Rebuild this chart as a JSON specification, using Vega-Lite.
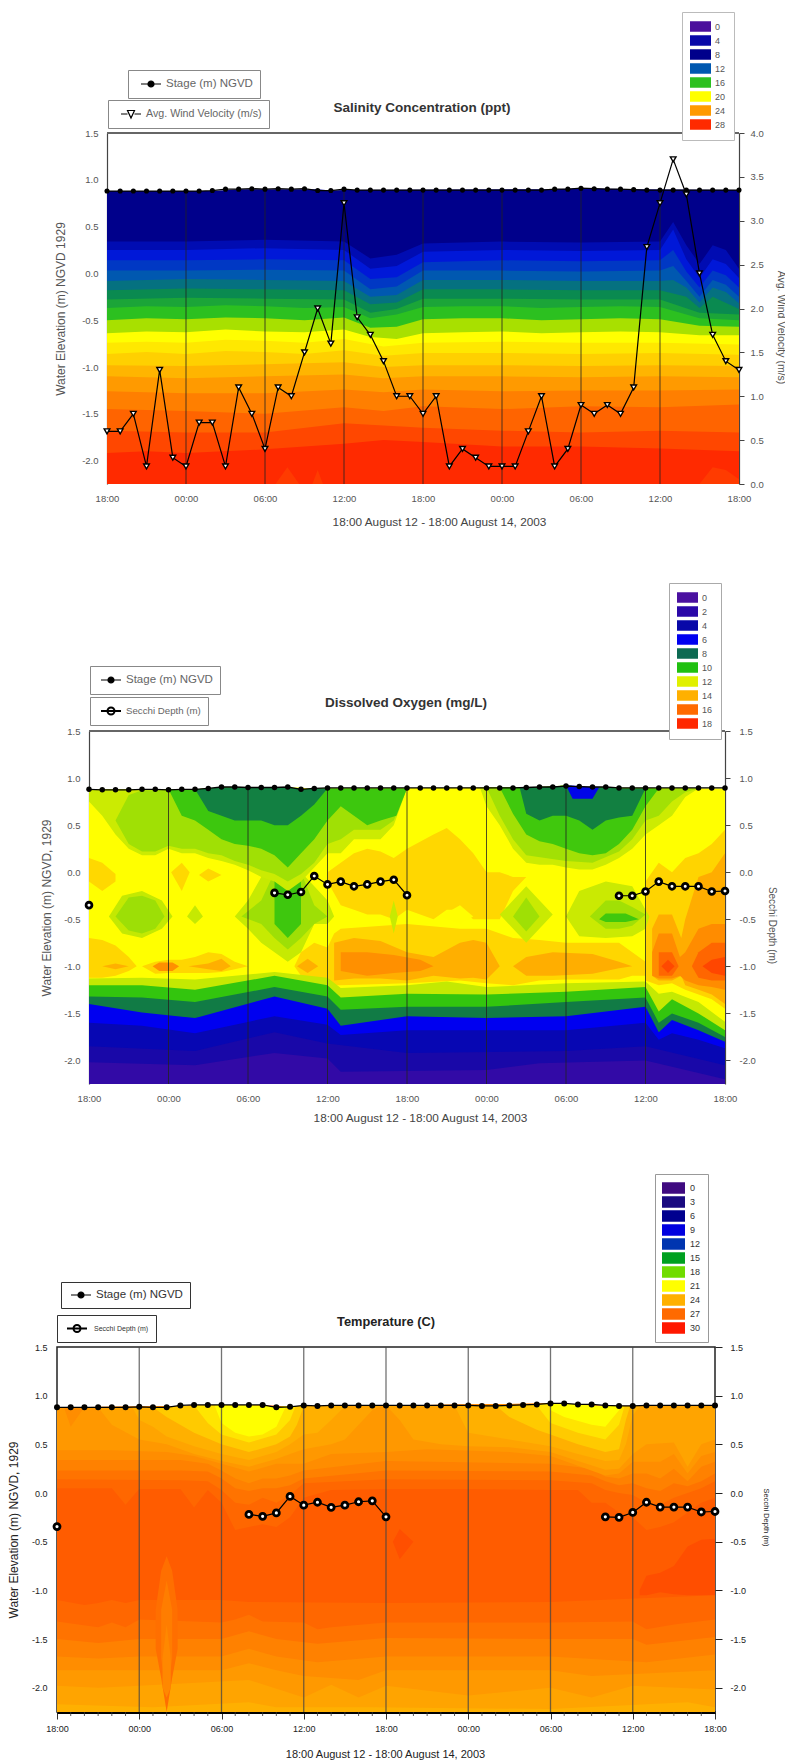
{
"$schema":"https://vega.github.io/schema/vega-lite/v6.json",
"padding":0,
"background":"white",
"config":{"font":"Liberation Sans","view":{"stroke":null},"title":{"font":"Liberation Sans"},"legend":{"labelFont":"Liberation Sans"}},
"datasets":{
"sal":[
{"b":8,"h":0,"y":0.88},{"b":8,"h":8,"y":0.88},{"b":8,"h":10,"y":0.9},{"b":8,"h":16,"y":0.9},{"b":8,"h":17,"y":0.885},{"b":8,"h":18,"y":0.89},{"b":8,"h":34,"y":0.9},{"b":8,"h":36,"y":0.91},{"b":8,"h":40,"y":0.9},{"b":8,"h":48,"y":0.89},
{"b":9,"h":0,"y":0.34},{"b":9,"h":6,"y":0.34},{"b":9,"h":12,"y":0.36},{"b":9,"h":18,"y":0.34},{"b":9,"h":20,"y":0.16},{"b":9,"h":22,"y":0.2},{"b":9,"h":24,"y":0.32},{"b":9,"h":30,"y":0.34},{"b":9,"h":36,"y":0.33},{"b":9,"h":42,"y":0.34},{"b":9,"h":43,"y":0.55},{"b":9,"h":44,"y":0.3},{"b":9,"h":45,"y":0.1},{"b":9,"h":46,"y":0.3},{"b":9,"h":47,"y":0.25},{"b":9,"h":48,"y":0.05},
{"b":10,"h":0,"y":0.25},{"b":10,"h":6,"y":0.25},{"b":10,"h":12,"y":0.27},{"b":10,"h":18,"y":0.25},{"b":10,"h":20,"y":0.05},{"b":10,"h":22,"y":0.08},{"b":10,"h":24,"y":0.23},{"b":10,"h":30,"y":0.25},{"b":10,"h":36,"y":0.24},{"b":10,"h":42,"y":0.25},{"b":10,"h":43,"y":0.47},{"b":10,"h":44,"y":0.15},{"b":10,"h":45,"y":-0.05},{"b":10,"h":46,"y":0.15},{"b":10,"h":47,"y":0.1},{"b":10,"h":48,"y":-0.05},
{"b":11,"h":0,"y":0.14},{"b":11,"h":6,"y":0.14},{"b":11,"h":12,"y":0.15},{"b":11,"h":18,"y":0.14},{"b":11,"h":20,"y":-0.06},{"b":11,"h":22,"y":-0.04},{"b":11,"h":24,"y":0.12},{"b":11,"h":30,"y":0.14},{"b":11,"h":36,"y":0.13},{"b":11,"h":42,"y":0.14},{"b":11,"h":43,"y":0.25},{"b":11,"h":44,"y":0.02},{"b":11,"h":45,"y":-0.15},{"b":11,"h":46,"y":0.03},{"b":11,"h":47,"y":-0.02},{"b":11,"h":48,"y":-0.15},
{"b":12,"h":0,"y":0.03},{"b":12,"h":6,"y":0.03},{"b":12,"h":12,"y":0.04},{"b":12,"h":18,"y":0.03},{"b":12,"h":20,"y":-0.17},{"b":12,"h":22,"y":-0.14},{"b":12,"h":24,"y":0.03},{"b":12,"h":30,"y":0.03},{"b":12,"h":36,"y":0.02},{"b":12,"h":42,"y":0.03},{"b":12,"h":43,"y":0.08},{"b":12,"h":44,"y":-0.08},{"b":12,"h":45,"y":-0.25},{"b":12,"h":46,"y":-0.07},{"b":12,"h":47,"y":-0.12},{"b":12,"h":48,"y":-0.25},
{"b":13,"h":0,"y":-0.08},{"b":13,"h":6,"y":-0.06},{"b":13,"h":12,"y":-0.07},{"b":13,"h":18,"y":-0.08},{"b":13,"h":20,"y":-0.25},{"b":13,"h":22,"y":-0.23},{"b":13,"h":24,"y":-0.07},{"b":13,"h":30,"y":-0.07},{"b":13,"h":36,"y":-0.08},{"b":13,"h":42,"y":-0.08},{"b":13,"h":43,"y":-0.07},{"b":13,"h":44,"y":-0.15},{"b":13,"h":45,"y":-0.31},{"b":13,"h":46,"y":-0.15},{"b":13,"h":47,"y":-0.2},{"b":13,"h":48,"y":-0.32},
{"b":14,"h":0,"y":-0.18},{"b":14,"h":6,"y":-0.16},{"b":14,"h":12,"y":-0.17},{"b":14,"h":18,"y":-0.18},{"b":14,"h":20,"y":-0.33},{"b":14,"h":22,"y":-0.31},{"b":14,"h":24,"y":-0.17},{"b":14,"h":30,"y":-0.17},{"b":14,"h":36,"y":-0.18},{"b":14,"h":42,"y":-0.18},{"b":14,"h":44,"y":-0.25},{"b":14,"h":45,"y":-0.37},{"b":14,"h":46,"y":-0.25},{"b":14,"h":48,"y":-0.38},
{"b":15,"h":0,"y":-0.28},{"b":15,"h":6,"y":-0.26},{"b":15,"h":12,"y":-0.27},{"b":15,"h":18,"y":-0.28},{"b":15,"h":20,"y":-0.42},{"b":15,"h":22,"y":-0.38},{"b":15,"h":24,"y":-0.27},{"b":15,"h":30,"y":-0.27},{"b":15,"h":36,"y":-0.28},{"b":15,"h":42,"y":-0.28},{"b":15,"h":45,"y":-0.42},{"b":15,"h":48,"y":-0.44},
{"b":16,"h":0,"y":-0.37},{"b":16,"h":3,"y":-0.35},{"b":16,"h":6,"y":-0.36},{"b":16,"h":9,"y":-0.34},{"b":16,"h":12,"y":-0.35},{"b":16,"h":15,"y":-0.37},{"b":16,"h":18,"y":-0.36},{"b":16,"h":20,"y":-0.48},{"b":16,"h":22,"y":-0.44},{"b":16,"h":24,"y":-0.36},{"b":16,"h":27,"y":-0.35},{"b":16,"h":30,"y":-0.35},{"b":16,"h":33,"y":-0.37},{"b":16,"h":36,"y":-0.36},{"b":16,"h":39,"y":-0.35},{"b":16,"h":42,"y":-0.36},{"b":16,"h":45,"y":-0.48},{"b":16,"h":48,"y":-0.5},
{"b":18,"h":0,"y":-0.5},{"b":18,"h":3,"y":-0.48},{"b":18,"h":6,"y":-0.49},{"b":18,"h":9,"y":-0.47},{"b":18,"h":12,"y":-0.48},{"b":18,"h":15,"y":-0.5},{"b":18,"h":18,"y":-0.47},{"b":18,"h":20,"y":-0.58},{"b":18,"h":22,"y":-0.57},{"b":18,"h":24,"y":-0.49},{"b":18,"h":27,"y":-0.48},{"b":18,"h":30,"y":-0.48},{"b":18,"h":33,"y":-0.5},{"b":18,"h":36,"y":-0.49},{"b":18,"h":39,"y":-0.48},{"b":18,"h":42,"y":-0.49},{"b":18,"h":45,"y":-0.56},{"b":18,"h":48,"y":-0.57},
{"b":20,"h":0,"y":-0.64},{"b":20,"h":3,"y":-0.62},{"b":20,"h":6,"y":-0.63},{"b":20,"h":9,"y":-0.6},{"b":20,"h":12,"y":-0.62},{"b":20,"h":15,"y":-0.63},{"b":20,"h":18,"y":-0.6},{"b":20,"h":20,"y":-0.68},{"b":20,"h":22,"y":-0.7},{"b":20,"h":24,"y":-0.64},{"b":20,"h":27,"y":-0.63},{"b":20,"h":30,"y":-0.62},{"b":20,"h":33,"y":-0.64},{"b":20,"h":36,"y":-0.63},{"b":20,"h":39,"y":-0.62},{"b":20,"h":42,"y":-0.63},{"b":20,"h":45,"y":-0.66},{"b":20,"h":48,"y":-0.66},
{"b":21,"h":0,"y":-0.74},{"b":21,"h":3,"y":-0.73},{"b":21,"h":6,"y":-0.74},{"b":21,"h":9,"y":-0.71},{"b":21,"h":12,"y":-0.72},{"b":21,"h":15,"y":-0.74},{"b":21,"h":18,"y":-0.7},{"b":21,"h":21,"y":-0.78},{"b":21,"h":24,"y":-0.74},{"b":21,"h":30,"y":-0.73},{"b":21,"h":36,"y":-0.74},{"b":21,"h":42,"y":-0.74},{"b":21,"h":48,"y":-0.76},
{"b":22,"h":0,"y":-0.86},{"b":22,"h":3,"y":-0.84},{"b":22,"h":6,"y":-0.86},{"b":22,"h":9,"y":-0.83},{"b":22,"h":12,"y":-0.84},{"b":22,"h":15,"y":-0.86},{"b":22,"h":18,"y":-0.82},{"b":22,"h":21,"y":-0.88},{"b":22,"h":24,"y":-0.85},{"b":22,"h":30,"y":-0.85},{"b":22,"h":36,"y":-0.86},{"b":22,"h":42,"y":-0.85},{"b":22,"h":48,"y":-0.87},
{"b":23,"h":0,"y":-0.98},{"b":23,"h":6,"y":-0.99},{"b":23,"h":12,"y":-0.97},{"b":23,"h":18,"y":-0.95},{"b":23,"h":21,"y":-1.0},{"b":23,"h":24,"y":-0.98},{"b":23,"h":30,"y":-0.98},{"b":23,"h":36,"y":-0.99},{"b":23,"h":42,"y":-0.98},{"b":23,"h":48,"y":-0.99},
{"b":24,"h":0,"y":-1.1},{"b":24,"h":6,"y":-1.12},{"b":24,"h":12,"y":-1.1},{"b":24,"h":18,"y":-1.08},{"b":24,"h":21,"y":-1.12},{"b":24,"h":24,"y":-1.1},{"b":24,"h":30,"y":-1.1},{"b":24,"h":36,"y":-1.11},{"b":24,"h":42,"y":-1.1},{"b":24,"h":48,"y":-1.11},
{"b":25,"h":0,"y":-1.26},{"b":25,"h":6,"y":-1.28},{"b":25,"h":12,"y":-1.28},{"b":25,"h":18,"y":-1.24},{"b":25,"h":21,"y":-1.27},{"b":25,"h":24,"y":-1.24},{"b":25,"h":30,"y":-1.26},{"b":25,"h":36,"y":-1.25},{"b":25,"h":42,"y":-1.25},{"b":25,"h":48,"y":-1.24},
{"b":26,"h":0,"y":-1.45},{"b":26,"h":6,"y":-1.47},{"b":26,"h":12,"y":-1.5},{"b":26,"h":18,"y":-1.43},{"b":26,"h":21,"y":-1.47},{"b":26,"h":24,"y":-1.42},{"b":26,"h":30,"y":-1.45},{"b":26,"h":36,"y":-1.42},{"b":26,"h":42,"y":-1.43},{"b":26,"h":48,"y":-1.4},
{"b":27,"h":0,"y":-1.68},{"b":27,"h":6,"y":-1.7},{"b":27,"h":12,"y":-1.7},{"b":27,"h":18,"y":-1.6},{"b":27,"h":24,"y":-1.65},{"b":27,"h":30,"y":-1.68},{"b":27,"h":36,"y":-1.7},{"b":27,"h":42,"y":-1.68},{"b":27,"h":48,"y":-1.7},
{"b":28,"h":0,"y":-1.92},{"b":28,"h":3,"y":-1.9},{"b":28,"h":6,"y":-1.92},{"b":28,"h":12,"y":-1.88},{"b":28,"h":15,"y":-1.85},{"b":28,"h":18,"y":-1.82},{"b":28,"h":21,"y":-1.78},{"b":28,"h":24,"y":-1.8},{"b":28,"h":30,"y":-1.85},{"b":28,"h":36,"y":-1.85},{"b":28,"h":42,"y":-1.87},{"b":28,"h":48,"y":-1.9},
{"b":27.4,"h":12.8,"y":-2.25},{"b":27.4,"h":13.7,"y":-2.07},{"b":27.4,"h":14.6,"y":-2.25},
{"b":27.41,"h":15.6,"y":-2.25},{"b":27.41,"h":16,"y":-2.1},{"b":27.41,"h":16.4,"y":-2.25},
{"b":27.42,"h":45,"y":-2.25},{"b":27.42,"h":46,"y":-2.07},{"b":27.42,"h":47,"y":-2.1},{"b":27.42,"h":48,"y":-2.2}
],
"do":[
{"b":12.5,"h":0,"y":0.88,"y2":-2.25},{"b":12.5,"h":8,"y":0.88,"y2":-2.25},{"b":12.5,"h":10,"y":0.9,"y2":-2.25},{"b":12.5,"h":16,"y":0.9,"y2":-2.25},{"b":12.5,"h":17,"y":0.88,"y2":-2.25},{"b":12.5,"h":18,"y":0.89,"y2":-2.25},{"b":12.5,"h":34,"y":0.9,"y2":-2.25},{"b":12.5,"h":36,"y":0.92,"y2":-2.25},{"b":12.5,"h":38,"y":0.9,"y2":-2.25},{"b":12.5,"h":48,"y":0.89,"y2":-2.25},
{"b":13,"h":0,"y":0.15,"y2":-0.1},{"b":13,"h":1,"y":0.1,"y2":-0.2},{"b":13,"h":2,"y":-0.02,"y2":-0.1},
{"b":13.01,"h":6.2,"y":0,"y2":0},{"b":13.01,"h":7,"y":0.1,"y2":-0.2},{"b":13.01,"h":7.6,"y":0,"y2":0},
{"b":13.02,"h":8.3,"y":-0.03,"y2":-0.03},{"b":13.02,"h":9,"y":0.04,"y2":-0.1},{"b":13.02,"h":10,"y":-0.03,"y2":-0.03},
{"b":13.03,"h":18,"y":0,"y2":-0.1},{"b":13.03,"h":19,"y":0.1,"y2":-0.35},{"b":13.03,"h":20,"y":0.2,"y2":-0.4},{"b":13.03,"h":21,"y":0.25,"y2":-0.45},{"b":13.03,"h":22,"y":0.22,"y2":-0.45},{"b":13.03,"h":23,"y":0.15,"y2":-0.5},{"b":13.03,"h":24,"y":0.25,"y2":-0.4},{"b":13.03,"h":26,"y":0.4,"y2":-0.5},{"b":13.03,"h":27,"y":0.47,"y2":-0.4},{"b":13.03,"h":28,"y":0.35,"y2":-0.4},{"b":13.03,"h":29,"y":0.2,"y2":-0.5},{"b":13.03,"h":30,"y":0,"y2":-0.5},{"b":13.03,"h":31,"y":0,"y2":-0.5},{"b":13.03,"h":32,"y":-0.05,"y2":-0.2},{"b":13.03,"h":33,"y":-0.05,"y2":-0.05},
{"b":13.04,"h":0,"y":-0.7,"y2":-1.12},{"b":13.04,"h":1,"y":-0.72,"y2":-1.12},{"b":13.04,"h":2,"y":-0.78,"y2":-1.1},{"b":13.04,"h":3,"y":-0.9,"y2":-1.05},{"b":13.04,"h":3.6,"y":-1,"y2":-1},
{"b":13.05,"h":4,"y":-1,"y2":-1},{"b":13.05,"h":5,"y":-0.95,"y2":-1.08},{"b":13.05,"h":6,"y":-0.93,"y2":-1.07},{"b":13.05,"h":7,"y":-0.93,"y2":-1.07},{"b":13.05,"h":8,"y":-0.9,"y2":-1.07},{"b":13.05,"h":9,"y":-0.85,"y2":-1.07},{"b":13.05,"h":10,"y":-0.87,"y2":-1.06},{"b":13.05,"h":11,"y":-0.95,"y2":-1.03},{"b":13.05,"h":12,"y":-1,"y2":-1},
{"b":13.06,"h":15.5,"y":-1,"y2":-1},{"b":13.06,"h":16,"y":-0.85,"y2":-1.1},{"b":13.06,"h":17,"y":-0.75,"y2":-1.12},{"b":13.06,"h":18,"y":-0.8,"y2":-1.15},{"b":13.06,"h":18.5,"y":-0.65,"y2":-1.2},{"b":13.06,"h":19,"y":-0.6,"y2":-1.2},{"b":13.06,"h":24,"y":-0.55,"y2":-1.18},{"b":13.06,"h":28,"y":-0.6,"y2":-1.15},{"b":13.06,"h":30,"y":-0.6,"y2":-1.18},{"b":13.06,"h":32,"y":-0.7,"y2":-1.2},{"b":13.06,"h":34,"y":-0.72,"y2":-1.15},{"b":13.06,"h":36,"y":-0.75,"y2":-1.14},{"b":13.06,"h":40,"y":-0.75,"y2":-1.14},{"b":13.06,"h":41,"y":-0.85,"y2":-1.1},{"b":13.06,"h":42,"y":-0.95,"y2":-1.1},
{"b":13.1,"h":42,"y":-0.1,"y2":-1.15},{"b":13.1,"h":43,"y":0.1,"y2":-1.2},{"b":13.1,"h":44,"y":0,"y2":-1.18},{"b":13.1,"h":45,"y":0.15,"y2":-1.25},{"b":13.1,"h":46,"y":0.2,"y2":-1.3},{"b":13.1,"h":47,"y":0.3,"y2":-1.35},{"b":13.1,"h":48,"y":0.45,"y2":-1.45},
{"b":14,"h":1,"y":-1,"y2":-1},{"b":14,"h":2,"y":-0.97,"y2":-1.03},{"b":14,"h":3,"y":-1,"y2":-1},
{"b":15.01,"h":4.8,"y":-1,"y2":-1},{"b":15.01,"h":5.3,"y":-0.96,"y2":-1.05},{"b":15.01,"h":6.3,"y":-0.96,"y2":-1.05},{"b":15.01,"h":6.8,"y":-1,"y2":-1},
{"b":14.02,"h":7.5,"y":-1,"y2":-1},{"b":14.02,"h":9,"y":-0.97,"y2":-1.03},{"b":14.02,"h":10,"y":-0.92,"y2":-1.05},{"b":14.02,"h":10.7,"y":-1,"y2":-1},
{"b":14.03,"h":15.7,"y":-1,"y2":-1},{"b":14.03,"h":16.5,"y":-0.92,"y2":-1.07},{"b":14.03,"h":17.3,"y":-1,"y2":-1},
{"b":14.04,"h":18.5,"y":-0.75,"y2":-1.15},{"b":14.04,"h":20,"y":-0.7,"y2":-1.13},{"b":14.04,"h":22,"y":-0.73,"y2":-1.13},{"b":14.04,"h":24,"y":-0.85,"y2":-1.15},{"b":14.04,"h":26,"y":-0.9,"y2":-1.1},{"b":14.04,"h":28,"y":-0.75,"y2":-1.13},{"b":14.04,"h":29,"y":-0.72,"y2":-1.12},{"b":14.04,"h":30,"y":-0.75,"y2":-1.14},{"b":14.04,"h":31,"y":-1,"y2":-1},
{"b":14.05,"h":32,"y":-1,"y2":-1},{"b":14.05,"h":33,"y":-0.9,"y2":-1.1},{"b":14.05,"h":35,"y":-0.85,"y2":-1.1},{"b":14.05,"h":38,"y":-0.87,"y2":-1.08},{"b":14.05,"h":40,"y":-0.95,"y2":-1.02},{"b":14.05,"h":41,"y":-1,"y2":-1},
{"b":15,"h":19,"y":-0.85,"y2":-1.05},{"b":15,"h":21,"y":-0.85,"y2":-1.1},{"b":15,"h":23,"y":-0.88,"y2":-1.07},{"b":15,"h":25,"y":-0.93,"y2":-1.05},{"b":15,"h":26,"y":-1,"y2":-1},
{"b":14.1,"h":42.5,"y":-0.6,"y2":-1.1},{"b":14.1,"h":43,"y":-0.45,"y2":-1.15},{"b":14.1,"h":44,"y":-0.45,"y2":-1.15},{"b":14.1,"h":44.7,"y":-0.7,"y2":-1.1},{"b":14.1,"h":45,"y":-0.5,"y2":-1.2},{"b":14.1,"h":46,"y":-0.05,"y2":-1.25},{"b":14.1,"h":47,"y":0,"y2":-1.3},{"b":14.1,"h":48,"y":0.2,"y2":-1.4},
{"b":15.1,"h":42.5,"y":-0.85,"y2":-1.1},{"b":15.1,"h":43,"y":-0.65,"y2":-1.13},{"b":15.1,"h":44,"y":-0.65,"y2":-1.13},{"b":15.1,"h":44.6,"y":-0.9,"y2":-1.1},{"b":15.1,"h":45,"y":-0.85,"y2":-1.15},{"b":15.1,"h":46,"y":-0.6,"y2":-1.2},{"b":15.1,"h":47,"y":-0.55,"y2":-1.22},{"b":15.1,"h":48,"y":-0.55,"y2":-1.25},
{"b":16.1,"h":43,"y":-0.85,"y2":-1.1},{"b":16.1,"h":44,"y":-0.85,"y2":-1.1},{"b":16.1,"h":44.5,"y":-1,"y2":-1},
{"b":16.11,"h":45.5,"y":-1,"y2":-1},{"b":16.11,"h":46,"y":-0.85,"y2":-1.12},{"b":16.11,"h":47,"y":-0.75,"y2":-1.15},{"b":16.11,"h":48,"y":-0.75,"y2":-1.15},
{"b":17,"h":43.2,"y":-1,"y2":-1},{"b":17,"h":43.7,"y":-0.93,"y2":-1.07},{"b":17,"h":44.2,"y":-1,"y2":-1},
{"b":17.1,"h":46.3,"y":-1,"y2":-1},{"b":17.1,"h":47,"y":-0.93,"y2":-1.07},{"b":17.1,"h":48,"y":-0.9,"y2":-1.1},
{"b":11.7,"h":1.5,"y":-0.47,"y2":-0.47},{"b":11.7,"h":2.5,"y":-0.25,"y2":-0.65},{"b":11.7,"h":4,"y":-0.2,"y2":-0.7},{"b":11.7,"h":5.5,"y":-0.3,"y2":-0.6},{"b":11.7,"h":6.3,"y":-0.47,"y2":-0.47},
{"b":11.3,"h":2,"y":-0.47,"y2":-0.47},{"b":11.3,"h":3,"y":-0.27,"y2":-0.62},{"b":11.3,"h":4,"y":-0.25,"y2":-0.65},{"b":11.3,"h":5,"y":-0.3,"y2":-0.6},{"b":11.3,"h":5.7,"y":-0.47,"y2":-0.47},
{"b":11.72,"h":7.4,"y":-0.47,"y2":-0.47},{"b":11.72,"h":8,"y":-0.35,"y2":-0.55},{"b":11.72,"h":8.6,"y":-0.47,"y2":-0.47},
{"b":11.73,"h":11,"y":-0.47,"y2":-0.47},{"b":11.73,"h":12,"y":-0.3,"y2":-0.6},{"b":11.73,"h":13,"y":-0.05,"y2":-0.75},{"b":11.73,"h":14,"y":0,"y2":-0.85},{"b":11.73,"h":15,"y":0,"y2":-0.95},{"b":11.73,"h":16,"y":0,"y2":-0.85},{"b":11.73,"h":17,"y":-0.15,"y2":-0.55},{"b":11.73,"h":18,"y":-0.3,"y2":-0.55},{"b":11.73,"h":18.5,"y":-0.47,"y2":-0.47},
{"b":11.31,"h":11.5,"y":-0.47,"y2":-0.47},{"b":11.31,"h":13,"y":-0.3,"y2":-0.55},{"b":11.31,"h":14,"y":0,"y2":-0.7},{"b":11.31,"h":15,"y":0,"y2":-0.82},{"b":11.31,"h":16,"y":0,"y2":-0.7},{"b":11.31,"h":17,"y":-0.35,"y2":-0.55},{"b":11.31,"h":18,"y":-0.47,"y2":-0.47},
{"b":10.31,"h":14,"y":0,"y2":-0.55},{"b":10.31,"h":15,"y":0,"y2":-0.7},{"b":10.31,"h":16,"y":0,"y2":-0.55},
{"b":11.74,"h":22.7,"y":-0.47,"y2":-0.47},{"b":11.74,"h":23,"y":-0.3,"y2":-0.65},{"b":11.74,"h":23.3,"y":-0.47,"y2":-0.47},
{"b":12.51,"h":26.5,"y":-0.47,"y2":-0.47},{"b":12.51,"h":28,"y":-0.35,"y2":-0.55},{"b":12.51,"h":29,"y":-0.47,"y2":-0.47},
{"b":11.76,"h":31,"y":-0.45,"y2":-0.45},{"b":11.76,"h":33,"y":-0.15,"y2":-0.75},{"b":11.76,"h":35,"y":-0.45,"y2":-0.45},
{"b":11.32,"h":32,"y":-0.47,"y2":-0.47},{"b":11.32,"h":33,"y":-0.27,"y2":-0.63},{"b":11.32,"h":34,"y":-0.47,"y2":-0.47},
{"b":11.77,"h":36,"y":-0.47,"y2":-0.47},{"b":11.77,"h":37,"y":-0.2,"y2":-0.68},{"b":11.77,"h":39,"y":-0.1,"y2":-0.7},{"b":11.77,"h":41,"y":-0.15,"y2":-0.68},{"b":11.77,"h":42,"y":-0.4,"y2":-0.6},{"b":11.77,"h":42.3,"y":-0.47,"y2":-0.47},
{"b":11.34,"h":37.8,"y":-0.47,"y2":-0.47},{"b":11.34,"h":39,"y":-0.3,"y2":-0.6},{"b":11.34,"h":40,"y":-0.3,"y2":-0.6},{"b":11.34,"h":41,"y":-0.37,"y2":-0.57},{"b":11.34,"h":42,"y":-0.45,"y2":-0.45},
{"b":10.32,"h":38.5,"y":-0.5,"y2":-0.5},{"b":10.32,"h":39,"y":-0.44,"y2":-0.53},{"b":10.32,"h":40.5,"y":-0.44,"y2":-0.53},{"b":10.32,"h":41.5,"y":-0.5,"y2":-0.5},
{"b":11.78,"h":0,"y":0.88,"y2":0.75},{"b":11.78,"h":1,"y":0.88,"y2":0.6},{"b":11.78,"h":2,"y":0.88,"y2":0.4},{"b":11.78,"h":3,"y":0.88,"y2":0.25},{"b":11.78,"h":4,"y":0.88,"y2":0.18},{"b":11.78,"h":5,"y":0.88,"y2":0.18},{"b":11.78,"h":6,"y":0.88,"y2":0.25},{"b":11.78,"h":7,"y":0.88,"y2":0.2},{"b":11.78,"h":8,"y":0.88,"y2":0.2},{"b":11.78,"h":9,"y":0.89,"y2":0.15},{"b":11.78,"h":10,"y":0.9,"y2":0.12},{"b":11.78,"h":11,"y":0.9,"y2":0.08},{"b":11.78,"h":12,"y":0.9,"y2":0.02},{"b":11.78,"h":13,"y":0.9,"y2":-0.05},{"b":11.78,"h":14,"y":0.9,"y2":-0.1},{"b":11.78,"h":15,"y":0.9,"y2":-0.2},{"b":11.78,"h":16,"y":0.88,"y2":-0.1},{"b":11.78,"h":17,"y":0.89,"y2":0.05},{"b":11.78,"h":18,"y":0.89,"y2":0.2},{"b":11.78,"h":19,"y":0.89,"y2":0.2},{"b":11.78,"h":20,"y":0.89,"y2":0.35},{"b":11.78,"h":21,"y":0.89,"y2":0.35},{"b":11.78,"h":22,"y":0.89,"y2":0.35},{"b":11.78,"h":23,"y":0.89,"y2":0.5},{"b":11.78,"h":24,"y":0.89,"y2":0.89},
{"b":11.79,"h":29.5,"y":0.9,"y2":0.9},{"b":11.79,"h":30,"y":0.9,"y2":0.7},{"b":11.79,"h":31,"y":0.9,"y2":0.5},{"b":11.79,"h":32,"y":0.9,"y2":0.25},{"b":11.79,"h":33,"y":0.9,"y2":0.1},{"b":11.79,"h":34,"y":0.9,"y2":0.08},{"b":11.79,"h":35,"y":0.91,"y2":0.08},{"b":11.79,"h":36,"y":0.92,"y2":0.05},{"b":11.79,"h":37,"y":0.91,"y2":0.03},{"b":11.79,"h":38,"y":0.9,"y2":0.03},{"b":11.79,"h":39,"y":0.9,"y2":0.08},{"b":11.79,"h":40,"y":0.89,"y2":0.15},{"b":11.79,"h":41,"y":0.89,"y2":0.25},{"b":11.79,"h":42,"y":0.89,"y2":0.4},{"b":11.79,"h":43,"y":0.89,"y2":0.5},{"b":11.79,"h":44,"y":0.89,"y2":0.6},{"b":11.79,"h":45,"y":0.89,"y2":0.8},{"b":11.79,"h":46,"y":0.89,"y2":0.89},
{"b":11.33,"h":2,"y":0.55,"y2":0.55},{"b":11.33,"h":3,"y":0.82,"y2":0.3},{"b":11.33,"h":4,"y":0.87,"y2":0.22},{"b":11.33,"h":5,"y":0.87,"y2":0.22},{"b":11.33,"h":6,"y":0.88,"y2":0.28},{"b":11.33,"h":7,"y":0.88,"y2":0.25},{"b":11.33,"h":8,"y":0.88,"y2":0.25},{"b":11.33,"h":9,"y":0.89,"y2":0.2},{"b":11.33,"h":10,"y":0.9,"y2":0.18},{"b":11.33,"h":11,"y":0.9,"y2":0.12},{"b":11.33,"h":12,"y":0.9,"y2":0.08},{"b":11.33,"h":13,"y":0.9,"y2":0.02},{"b":11.33,"h":14,"y":0.9,"y2":-0.02},{"b":11.33,"h":15,"y":0.9,"y2":-0.1},{"b":11.33,"h":16,"y":0.88,"y2":-0.02},{"b":11.33,"h":17,"y":0.89,"y2":0.1},{"b":11.33,"h":18,"y":0.89,"y2":0.3},{"b":11.33,"h":19,"y":0.89,"y2":0.35},{"b":11.33,"h":20,"y":0.89,"y2":0.45},{"b":11.33,"h":22,"y":0.89,"y2":0.45},{"b":11.33,"h":23,"y":0.89,"y2":0.55},{"b":11.33,"h":24,"y":0.89,"y2":0.89},
{"b":11.35,"h":30,"y":0.9,"y2":0.9},{"b":11.35,"h":31,"y":0.9,"y2":0.6},{"b":11.35,"h":32,"y":0.9,"y2":0.35},{"b":11.35,"h":33,"y":0.9,"y2":0.18},{"b":11.35,"h":36,"y":0.92,"y2":0.12},{"b":11.35,"h":38,"y":0.9,"y2":0.1},{"b":11.35,"h":40,"y":0.89,"y2":0.22},{"b":11.35,"h":41,"y":0.89,"y2":0.35},{"b":11.35,"h":42,"y":0.89,"y2":0.55},{"b":11.35,"h":43,"y":0.89,"y2":0.6},{"b":11.35,"h":44,"y":0.89,"y2":0.75},{"b":11.35,"h":45,"y":0.89,"y2":0.85},{"b":11.35,"h":46,"y":0.89,"y2":0.89},
{"b":10.3,"h":6,"y":0.88,"y2":0.88},{"b":10.3,"h":7,"y":0.88,"y2":0.6},{"b":10.3,"h":8,"y":0.88,"y2":0.55},{"b":10.3,"h":9,"y":0.89,"y2":0.45},{"b":10.3,"h":10,"y":0.9,"y2":0.35},{"b":10.3,"h":11,"y":0.9,"y2":0.3},{"b":10.3,"h":12,"y":0.9,"y2":0.28},{"b":10.3,"h":13,"y":0.9,"y2":0.25},{"b":10.3,"h":14,"y":0.9,"y2":0.18},{"b":10.3,"h":15,"y":0.9,"y2":0.05},{"b":10.3,"h":16,"y":0.88,"y2":0.2},{"b":10.3,"h":17,"y":0.89,"y2":0.35},{"b":10.3,"h":18,"y":0.89,"y2":0.55},{"b":10.3,"h":19,"y":0.89,"y2":0.7},{"b":10.3,"h":20,"y":0.89,"y2":0.6},{"b":10.3,"h":21,"y":0.89,"y2":0.5},{"b":10.3,"h":22,"y":0.89,"y2":0.55},{"b":10.3,"h":23.2,"y":0.89,"y2":0.6},{"b":10.3,"h":24,"y":0.89,"y2":0.89},
{"b":10.33,"h":31,"y":0.9,"y2":0.9},{"b":10.33,"h":32,"y":0.9,"y2":0.62},{"b":10.33,"h":33,"y":0.9,"y2":0.4},{"b":10.33,"h":34,"y":0.9,"y2":0.33},{"b":10.33,"h":35,"y":0.91,"y2":0.3},{"b":10.33,"h":36,"y":0.92,"y2":0.25},{"b":10.33,"h":37,"y":0.91,"y2":0.2},{"b":10.33,"h":38,"y":0.9,"y2":0.18},{"b":10.33,"h":39,"y":0.9,"y2":0.2},{"b":10.33,"h":40,"y":0.89,"y2":0.3},{"b":10.33,"h":41,"y":0.89,"y2":0.45},{"b":10.33,"h":42,"y":0.89,"y2":0.7},{"b":10.33,"h":43,"y":0.89,"y2":0.89},
{"b":8.5,"h":8,"y":0.88,"y2":0.88},{"b":8.5,"h":9,"y":0.89,"y2":0.65},{"b":8.5,"h":10,"y":0.9,"y2":0.6},{"b":8.5,"h":11,"y":0.9,"y2":0.55},{"b":8.5,"h":13,"y":0.9,"y2":0.55},{"b":8.5,"h":14,"y":0.9,"y2":0.5},{"b":8.5,"h":15,"y":0.9,"y2":0.5},{"b":8.5,"h":16,"y":0.88,"y2":0.6},{"b":8.5,"h":17,"y":0.89,"y2":0.72},{"b":8.5,"h":18,"y":0.89,"y2":0.89},
{"b":8.51,"h":32.5,"y":0.9,"y2":0.9},{"b":8.51,"h":33,"y":0.9,"y2":0.62},{"b":8.51,"h":34,"y":0.9,"y2":0.55},{"b":8.51,"h":35,"y":0.91,"y2":0.6},{"b":8.51,"h":36,"y":0.92,"y2":0.6},{"b":8.51,"h":37,"y":0.91,"y2":0.55},{"b":8.51,"h":38,"y":0.9,"y2":0.45},{"b":8.51,"h":39,"y":0.9,"y2":0.55},{"b":8.51,"h":40,"y":0.89,"y2":0.58},{"b":8.51,"h":41,"y":0.89,"y2":0.6},{"b":8.51,"h":42,"y":0.89,"y2":0.89},
{"b":6.1,"h":36,"y":0.92,"y2":0.92},{"b":6.1,"h":36.5,"y":0.92,"y2":0.78},{"b":6.1,"h":38,"y":0.9,"y2":0.78},{"b":6.1,"h":38.5,"y":0.9,"y2":0.9},
{"b":11.71,"h":0,"y":-1.13,"y2":-2.25},{"b":11.71,"h":4,"y":-1.12,"y2":-2.25},{"b":11.71,"h":8,"y":-1.14,"y2":-2.25},{"b":11.71,"h":14,"y":-1.06,"y2":-2.25},{"b":11.71,"h":18,"y":-1.12,"y2":-2.25},{"b":11.71,"h":19,"y":-1.23,"y2":-2.25},{"b":11.71,"h":24,"y":-1.2,"y2":-2.25},{"b":11.71,"h":27,"y":-1.16,"y2":-2.25},{"b":11.71,"h":30,"y":-1.22,"y2":-2.25},{"b":11.71,"h":36,"y":-1.18,"y2":-2.25},{"b":11.71,"h":42,"y":-1.16,"y2":-2.25},{"b":11.71,"h":43,"y":-1.29,"y2":-2.25},{"b":11.71,"h":44,"y":-1.27,"y2":-2.25},{"b":11.71,"h":46,"y":-1.38,"y2":-2.25},{"b":11.71,"h":48,"y":-1.59,"y2":-2.25},
{"b":10.2,"h":0,"y":-1.2,"y2":-2.25},{"b":10.2,"h":4,"y":-1.2,"y2":-2.25},{"b":10.2,"h":8,"y":-1.25,"y2":-2.25},{"b":10.2,"h":14,"y":-1.1,"y2":-2.25},{"b":10.2,"h":18,"y":-1.2,"y2":-2.25},{"b":10.2,"h":19,"y":-1.33,"y2":-2.25},{"b":10.2,"h":24,"y":-1.29,"y2":-2.25},{"b":10.2,"h":30,"y":-1.3,"y2":-2.25},{"b":10.2,"h":36,"y":-1.27,"y2":-2.25},{"b":10.2,"h":42,"y":-1.22,"y2":-2.25},{"b":10.2,"h":43,"y":-1.48,"y2":-2.25},{"b":10.2,"h":44,"y":-1.35,"y2":-2.25},{"b":10.2,"h":46,"y":-1.5,"y2":-2.25},{"b":10.2,"h":48,"y":-1.68,"y2":-2.25},
{"b":8.4,"h":0,"y":-1.32,"y2":-2.25},{"b":8.4,"h":4,"y":-1.33,"y2":-2.25},{"b":8.4,"h":8,"y":-1.38,"y2":-2.25},{"b":8.4,"h":14,"y":-1.22,"y2":-2.25},{"b":8.4,"h":18,"y":-1.32,"y2":-2.25},{"b":8.4,"h":19,"y":-1.46,"y2":-2.25},{"b":8.4,"h":24,"y":-1.43,"y2":-2.25},{"b":8.4,"h":30,"y":-1.43,"y2":-2.25},{"b":8.4,"h":36,"y":-1.38,"y2":-2.25},{"b":8.4,"h":42,"y":-1.33,"y2":-2.25},{"b":8.4,"h":43,"y":-1.6,"y2":-2.25},{"b":8.4,"h":44,"y":-1.5,"y2":-2.25},{"b":8.4,"h":46,"y":-1.6,"y2":-2.25},{"b":8.4,"h":48,"y":-1.75,"y2":-2.25},
{"b":6,"h":0,"y":-1.4,"y2":-2.25},{"b":6,"h":4,"y":-1.49,"y2":-2.25},{"b":6,"h":8,"y":-1.55,"y2":-2.25},{"b":6,"h":14,"y":-1.32,"y2":-2.25},{"b":6,"h":18,"y":-1.45,"y2":-2.25},{"b":6,"h":19,"y":-1.63,"y2":-2.25},{"b":6,"h":24,"y":-1.53,"y2":-2.25},{"b":6,"h":30,"y":-1.55,"y2":-2.25},{"b":6,"h":36,"y":-1.53,"y2":-2.25},{"b":6,"h":42,"y":-1.43,"y2":-2.25},{"b":6,"h":43,"y":-1.7,"y2":-2.25},{"b":6,"h":44,"y":-1.57,"y2":-2.25},{"b":6,"h":46,"y":-1.68,"y2":-2.25},{"b":6,"h":48,"y":-1.8,"y2":-2.25},
{"b":4.3,"h":0,"y":-1.6,"y2":-2.25},{"b":4.3,"h":4,"y":-1.63,"y2":-2.25},{"b":4.3,"h":8,"y":-1.71,"y2":-2.25},{"b":4.3,"h":14,"y":-1.53,"y2":-2.25},{"b":4.3,"h":18,"y":-1.62,"y2":-2.25},{"b":4.3,"h":19,"y":-1.73,"y2":-2.25},{"b":4.3,"h":24,"y":-1.68,"y2":-2.25},{"b":4.3,"h":30,"y":-1.68,"y2":-2.25},{"b":4.3,"h":36,"y":-1.68,"y2":-2.25},{"b":4.3,"h":42,"y":-1.6,"y2":-2.25},{"b":4.3,"h":43,"y":-1.78,"y2":-2.25},{"b":4.3,"h":44,"y":-1.71,"y2":-2.25},{"b":4.3,"h":46,"y":-1.78,"y2":-2.25},{"b":4.3,"h":48,"y":-1.87,"y2":-2.25},
{"b":3,"h":0,"y":-1.85,"y2":-2.25},{"b":3,"h":8,"y":-1.9,"y2":-2.25},{"b":3,"h":14,"y":-1.7,"y2":-2.25},{"b":3,"h":18,"y":-1.82,"y2":-2.25},{"b":3,"h":24,"y":-1.92,"y2":-2.25},{"b":3,"h":36,"y":-1.9,"y2":-2.25},{"b":3,"h":42,"y":-1.85,"y2":-2.25},{"b":3,"h":48,"y":-2.05,"y2":-2.25},
{"b":1.5,"h":0,"y":-2.02,"y2":-2.25},{"b":1.5,"h":8,"y":-2.05,"y2":-2.25},{"b":1.5,"h":14,"y":-1.92,"y2":-2.25},{"b":1.5,"h":18,"y":-1.98,"y2":-2.25},{"b":1.5,"h":19,"y":-2.12,"y2":-2.25},{"b":1.5,"h":30,"y":-2.1,"y2":-2.25},{"b":1.5,"h":34,"y":-2.03,"y2":-2.25},{"b":1.5,"h":42,"y":-2,"y2":-2.25},{"b":1.5,"h":48,"y":-2.2,"y2":-2.25}
],
"tmp":[
{"b":27.5,"h":0,"y":0.88,"y2":-2.25},{"b":27.5,"h":8,"y":0.88,"y2":-2.25},{"b":27.5,"h":10,"y":0.9,"y2":-2.25},{"b":27.5,"h":16,"y":0.9,"y2":-2.25},{"b":27.5,"h":17,"y":0.88,"y2":-2.25},{"b":27.5,"h":18,"y":0.89,"y2":-2.25},{"b":27.5,"h":34,"y":0.9,"y2":-2.25},{"b":27.5,"h":36,"y":0.92,"y2":-2.25},{"b":27.5,"h":38,"y":0.9,"y2":-2.25},{"b":27.5,"h":48,"y":0.89,"y2":-2.25},
{"b":28,"h":24.5,"y":-0.5,"y2":-0.5},{"b":28,"h":25,"y":-0.37,"y2":-0.68},{"b":28,"h":26,"y":-0.5,"y2":-0.5},
{"b":28.01,"h":42.5,"y":-1,"y2":-1.05},{"b":28.01,"h":43,"y":-0.85,"y2":-1.05},{"b":28.01,"h":44,"y":-0.82,"y2":-1.02},{"b":28.01,"h":45,"y":-0.75,"y2":-1.04},{"b":28.01,"h":46,"y":-0.55,"y2":-1.05},{"b":28.01,"h":47,"y":-0.48,"y2":-1.05},{"b":28.01,"h":48,"y":-0.47,"y2":-1.05},
{"b":27.1,"h":0,"y":-1.1,"y2":-2.25},{"b":27.1,"h":2,"y":-1.15,"y2":-2.25},{"b":27.1,"h":3,"y":-1.13,"y2":-2.25},{"b":27.1,"h":4,"y":-1.1,"y2":-2.25},{"b":27.1,"h":5,"y":-1.13,"y2":-2.25},{"b":27.1,"h":6,"y":-1.1,"y2":-2.25},{"b":27.1,"h":12,"y":-1.1,"y2":-2.25},{"b":27.1,"h":14,"y":-1.12,"y2":-2.25},{"b":27.1,"h":24,"y":-1.13,"y2":-2.25},{"b":27.1,"h":36,"y":-1.12,"y2":-2.25},{"b":27.1,"h":48,"y":-1.05,"y2":-2.25},
{"b":26.6,"h":0,"y":-1.32,"y2":-2.25},{"b":26.6,"h":3,"y":-1.38,"y2":-2.25},{"b":26.6,"h":4,"y":-1.33,"y2":-2.25},{"b":26.6,"h":5,"y":-1.38,"y2":-2.25},{"b":26.6,"h":6,"y":-1.3,"y2":-2.25},{"b":26.6,"h":12,"y":-1.33,"y2":-2.25},{"b":26.6,"h":13,"y":-1.3,"y2":-2.25},{"b":26.6,"h":14,"y":-1.25,"y2":-2.25},{"b":26.6,"h":15,"y":-1.32,"y2":-2.25},{"b":26.6,"h":18,"y":-1.33,"y2":-2.25},{"b":26.6,"h":19,"y":-1.4,"y2":-2.25},{"b":26.6,"h":20,"y":-1.38,"y2":-2.25},{"b":26.6,"h":24,"y":-1.33,"y2":-2.25},{"b":26.6,"h":36,"y":-1.33,"y2":-2.25},{"b":26.6,"h":42,"y":-1.32,"y2":-2.25},{"b":26.6,"h":43,"y":-1.4,"y2":-2.25},{"b":26.6,"h":45,"y":-1.35,"y2":-2.25},{"b":26.6,"h":48,"y":-1.3,"y2":-2.25},
{"b":26,"h":0,"y":-1.5,"y2":-2.25},{"b":26,"h":3,"y":-1.54,"y2":-2.25},{"b":26,"h":6,"y":-1.5,"y2":-2.25},{"b":26,"h":12,"y":-1.5,"y2":-2.25},{"b":26,"h":14,"y":-1.42,"y2":-2.25},{"b":26,"h":16,"y":-1.5,"y2":-2.25},{"b":26,"h":19,"y":-1.55,"y2":-2.25},{"b":26,"h":24,"y":-1.49,"y2":-2.25},{"b":26,"h":36,"y":-1.5,"y2":-2.25},{"b":26,"h":42,"y":-1.5,"y2":-2.25},{"b":26,"h":43,"y":-1.56,"y2":-2.25},{"b":26,"h":48,"y":-1.48,"y2":-2.25},
{"b":25.5,"h":0,"y":-1.68,"y2":-2.25},{"b":25.5,"h":3,"y":-1.7,"y2":-2.25},{"b":25.5,"h":6,"y":-1.68,"y2":-2.25},{"b":25.5,"h":12,"y":-1.68,"y2":-2.25},{"b":25.5,"h":14,"y":-1.6,"y2":-2.25},{"b":25.5,"h":16,"y":-1.68,"y2":-2.25},{"b":25.5,"h":19,"y":-1.74,"y2":-2.25},{"b":25.5,"h":24,"y":-1.68,"y2":-2.25},{"b":25.5,"h":36,"y":-1.68,"y2":-2.25},{"b":25.5,"h":43,"y":-1.74,"y2":-2.25},{"b":25.5,"h":48,"y":-1.66,"y2":-2.25},
{"b":25,"h":0,"y":-1.82,"y2":-2.25},{"b":25,"h":6,"y":-1.82,"y2":-2.25},{"b":25,"h":12,"y":-1.82,"y2":-2.25},{"b":25,"h":14,"y":-1.75,"y2":-2.25},{"b":25,"h":16,"y":-1.82,"y2":-2.25},{"b":25,"h":18,"y":-1.88,"y2":-2.25},{"b":25,"h":22,"y":-1.92,"y2":-2.25},{"b":25,"h":24,"y":-1.82,"y2":-2.25},{"b":25,"h":36,"y":-1.82,"y2":-2.25},{"b":25,"h":39,"y":-1.88,"y2":-2.25},{"b":25,"h":48,"y":-1.82,"y2":-2.25},
{"b":24.5,"h":0,"y":-1.98,"y2":-2.25},{"b":24.5,"h":3,"y":-2,"y2":-2.25},{"b":24.5,"h":6,"y":-1.98,"y2":-2.25},{"b":24.5,"h":14,"y":-1.92,"y2":-2.25},{"b":24.5,"h":18,"y":-2.1,"y2":-2.25},{"b":24.5,"h":20,"y":-1.97,"y2":-2.25},{"b":24.5,"h":22,"y":-2.1,"y2":-2.25},{"b":24.5,"h":24,"y":-1.98,"y2":-2.25},{"b":24.5,"h":30,"y":-2.08,"y2":-2.25},{"b":24.5,"h":36,"y":-2,"y2":-2.25},{"b":24.5,"h":39,"y":-2.1,"y2":-2.25},{"b":24.5,"h":42,"y":-1.98,"y2":-2.25},{"b":24.5,"h":48,"y":-2.02,"y2":-2.25},
{"b":24,"h":0,"y":-2.17,"y2":-2.25},{"b":24,"h":7,"y":-2.2,"y2":-2.25},{"b":24,"h":14,"y":-2.15,"y2":-2.25},{"b":24,"h":16,"y":-2.2,"y2":-2.25},{"b":24,"h":23,"y":-2.2,"y2":-2.25},{"b":24,"h":36,"y":-2.22,"y2":-2.25},{"b":24,"h":46,"y":-2.15,"y2":-2.25},{"b":24,"h":48,"y":-2.2,"y2":-2.25},
{"b":26.8,"h":7.2,"y":-1.2,"y2":-1.6},{"b":26.8,"h":7.6,"y":-0.8,"y2":-1.9},{"b":26.8,"h":8,"y":-0.65,"y2":-2.25},{"b":26.8,"h":8.4,"y":-0.8,"y2":-1.9},{"b":26.8,"h":8.8,"y":-1.2,"y2":-1.6},
{"b":26.2,"h":7.6,"y":-1.2,"y2":-1.7},{"b":26.2,"h":8,"y":-0.9,"y2":-2.1},{"b":26.2,"h":8.4,"y":-1.2,"y2":-1.7},
{"b":25.7,"h":7.7,"y":-1.7,"y2":-2},{"b":25.7,"h":8,"y":-1.35,"y2":-2.1},{"b":25.7,"h":8.3,"y":-1.7,"y2":-2},
{"b":27.11,"h":0,"y":0.88,"y2":0.05},{"b":27.11,"h":4,"y":0.88,"y2":0.05},{"b":27.11,"h":5,"y":0.88,"y2":-0.12},{"b":27.11,"h":6,"y":0.88,"y2":0.04},{"b":27.11,"h":9,"y":0.89,"y2":0.04},{"b":27.11,"h":10,"y":0.9,"y2":-0.15},{"b":27.11,"h":11,"y":0.9,"y2":0.03},{"b":27.11,"h":12,"y":0.9,"y2":-0.1},{"b":27.11,"h":13,"y":0.9,"y2":-0.38},{"b":27.11,"h":14,"y":0.9,"y2":-0.35},{"b":27.11,"h":15,"y":0.9,"y2":-0.32},{"b":27.11,"h":16,"y":0.88,"y2":-0.35},{"b":27.11,"h":17,"y":0.89,"y2":-0.25},{"b":27.11,"h":18,"y":0.89,"y2":-0.05},{"b":27.11,"h":20,"y":0.89,"y2":0.03},{"b":27.11,"h":24,"y":0.9,"y2":0.04},{"b":27.11,"h":30,"y":0.9,"y2":0.04},{"b":27.11,"h":36,"y":0.92,"y2":0.03},{"b":27.11,"h":38,"y":0.9,"y2":0.03},{"b":27.11,"h":39,"y":0.9,"y2":-0.1},{"b":27.11,"h":40,"y":0.89,"y2":-0.1},{"b":27.11,"h":41,"y":0.89,"y2":-0.2},{"b":27.11,"h":42,"y":0.89,"y2":-0.25},{"b":27.11,"h":43,"y":0.89,"y2":-0.38},{"b":27.11,"h":44,"y":0.89,"y2":-0.35},{"b":27.11,"h":45,"y":0.89,"y2":-0.3},{"b":27.11,"h":46,"y":0.89,"y2":-0.2},{"b":27.11,"h":47,"y":0.89,"y2":-0.1},{"b":27.11,"h":48,"y":0.89,"y2":-0.05},
{"b":26.61,"h":0,"y":0.88,"y2":0.14},{"b":26.61,"h":9,"y":0.89,"y2":0.13},{"b":26.61,"h":11,"y":0.9,"y2":0.12},{"b":26.61,"h":12,"y":0.9,"y2":0.03},{"b":26.61,"h":13,"y":0.9,"y2":-0.1},{"b":26.61,"h":14,"y":0.9,"y2":-0.12},{"b":26.61,"h":15,"y":0.9,"y2":-0.05},{"b":26.61,"h":16,"y":0.88,"y2":-0.1},{"b":26.61,"h":17,"y":0.89,"y2":-0.02},{"b":26.61,"h":18,"y":0.89,"y2":0.1},{"b":26.61,"h":24,"y":0.9,"y2":0.14},{"b":26.61,"h":36,"y":0.92,"y2":0.13},{"b":26.61,"h":39,"y":0.9,"y2":0.1},{"b":26.61,"h":40,"y":0.89,"y2":0.03},{"b":26.61,"h":41,"y":0.89,"y2":0},{"b":26.61,"h":42,"y":0.89,"y2":-0.02},{"b":26.61,"h":43,"y":0.89,"y2":-0.1},{"b":26.61,"h":44,"y":0.89,"y2":-0.12},{"b":26.61,"h":45,"y":0.89,"y2":-0.05},{"b":26.61,"h":46,"y":0.89,"y2":0},{"b":26.61,"h":47,"y":0.89,"y2":0.05},{"b":26.61,"h":48,"y":0.89,"y2":0.12},
{"b":26.01,"h":0,"y":0.88,"y2":0.23},{"b":26.01,"h":9,"y":0.89,"y2":0.23},{"b":26.01,"h":11,"y":0.9,"y2":0.22},{"b":26.01,"h":12,"y":0.9,"y2":0.15},{"b":26.01,"h":13,"y":0.9,"y2":0.05},{"b":26.01,"h":14,"y":0.9,"y2":0.02},{"b":26.01,"h":15,"y":0.9,"y2":0.05},{"b":26.01,"h":16,"y":0.88,"y2":0.05},{"b":26.01,"h":17,"y":0.89,"y2":0.08},{"b":26.01,"h":18,"y":0.89,"y2":0.15},{"b":26.01,"h":24,"y":0.9,"y2":0.23},{"b":26.01,"h":36,"y":0.92,"y2":0.22},{"b":26.01,"h":39,"y":0.9,"y2":0.18},{"b":26.01,"h":40,"y":0.89,"y2":0.12},{"b":26.01,"h":41,"y":0.89,"y2":0.08},{"b":26.01,"h":42,"y":0.89,"y2":0.1},{"b":26.01,"h":43,"y":0.89,"y2":0.05},{"b":26.01,"h":44,"y":0.89,"y2":0.02},{"b":26.01,"h":45,"y":0.89,"y2":0.1},{"b":26.01,"h":46,"y":0.89,"y2":0.07},{"b":26.01,"h":47,"y":0.89,"y2":0.12},{"b":26.01,"h":48,"y":0.89,"y2":0.2},
{"b":25.51,"h":0,"y":0.88,"y2":0.34},{"b":25.51,"h":9,"y":0.89,"y2":0.34},{"b":25.51,"h":11,"y":0.9,"y2":0.3},{"b":25.51,"h":12,"y":0.9,"y2":0.23},{"b":25.51,"h":13,"y":0.9,"y2":0.15},{"b":25.51,"h":14,"y":0.9,"y2":0.1},{"b":25.51,"h":15,"y":0.9,"y2":0.15},{"b":25.51,"h":16,"y":0.88,"y2":0.15},{"b":25.51,"h":17,"y":0.89,"y2":0.18},{"b":25.51,"h":18,"y":0.89,"y2":0.23},{"b":25.51,"h":24,"y":0.9,"y2":0.33},{"b":25.51,"h":36,"y":0.92,"y2":0.3},{"b":25.51,"h":39,"y":0.9,"y2":0.25},{"b":25.51,"h":40,"y":0.89,"y2":0.17},{"b":25.51,"h":41,"y":0.89,"y2":0.15},{"b":25.51,"h":42,"y":0.89,"y2":0.2},{"b":25.51,"h":43,"y":0.89,"y2":0.2},{"b":25.51,"h":44,"y":0.89,"y2":0.15},{"b":25.51,"h":45,"y":0.89,"y2":0.25},{"b":25.51,"h":46,"y":0.89,"y2":0.12},{"b":25.51,"h":47,"y":0.89,"y2":0.27},{"b":25.51,"h":48,"y":0.89,"y2":0.32},
{"b":25.01,"h":0,"y":0.88,"y2":0.44},{"b":25.01,"h":4,"y":0.88,"y2":0.44},{"b":25.01,"h":8,"y":0.88,"y2":0.42},{"b":25.01,"h":10,"y":0.9,"y2":0.38},{"b":25.01,"h":12,"y":0.9,"y2":0.3},{"b":25.01,"h":14,"y":0.9,"y2":0.22},{"b":25.01,"h":16,"y":0.88,"y2":0.3},{"b":25.01,"h":18,"y":0.89,"y2":0.3},{"b":25.01,"h":20,"y":0.89,"y2":0.4},{"b":25.01,"h":24,"y":0.9,"y2":0.42},{"b":25.01,"h":27,"y":0.9,"y2":0.45},{"b":25.01,"h":33,"y":0.9,"y2":0.42},{"b":25.01,"h":36,"y":0.92,"y2":0.38},{"b":25.01,"h":38,"y":0.9,"y2":0.28},{"b":25.01,"h":40,"y":0.89,"y2":0.18},{"b":25.01,"h":41,"y":0.89,"y2":0.2},{"b":25.01,"h":42,"y":0.89,"y2":0.32},{"b":25.01,"h":44,"y":0.89,"y2":0.32},{"b":25.01,"h":45,"y":0.89,"y2":0.4},{"b":25.01,"h":46,"y":0.89,"y2":0.2},{"b":25.01,"h":47,"y":0.89,"y2":0.38},{"b":25.01,"h":48,"y":0.89,"y2":0.42},
{"b":25.52,"h":0.5,"y":0.88,"y2":0.88},{"b":25.52,"h":1,"y":0.88,"y2":0.68},{"b":25.52,"h":2,"y":0.88,"y2":0.88},
{"b":24.51,"h":3,"y":0.88,"y2":0.88},{"b":24.51,"h":4,"y":0.88,"y2":0.7},{"b":24.51,"h":6,"y":0.88,"y2":0.55},{"b":24.51,"h":8,"y":0.88,"y2":0.5},{"b":24.51,"h":10,"y":0.9,"y2":0.4},{"b":24.51,"h":12,"y":0.9,"y2":0.33},{"b":24.51,"h":14,"y":0.9,"y2":0.27},{"b":24.51,"h":16,"y":0.88,"y2":0.35},{"b":24.51,"h":17,"y":0.89,"y2":0.4},{"b":24.51,"h":18,"y":0.89,"y2":0.45},{"b":24.51,"h":20,"y":0.89,"y2":0.5},{"b":24.51,"h":21,"y":0.89,"y2":0.55},{"b":24.51,"h":22,"y":0.89,"y2":0.7},{"b":24.51,"h":23,"y":0.89,"y2":0.85},{"b":24.51,"h":23.6,"y":0.89,"y2":0.89},
{"b":24.52,"h":24,"y":0.9,"y2":0.9},{"b":24.52,"h":25,"y":0.9,"y2":0.75},{"b":24.52,"h":26,"y":0.9,"y2":0.55},{"b":24.52,"h":28,"y":0.9,"y2":0.5},{"b":24.52,"h":30,"y":0.9,"y2":0.48},{"b":24.52,"h":33,"y":0.9,"y2":0.47},{"b":24.52,"h":36,"y":0.92,"y2":0.42},{"b":24.52,"h":38,"y":0.9,"y2":0.33},{"b":24.52,"h":40,"y":0.89,"y2":0.24},{"b":24.52,"h":41,"y":0.89,"y2":0.25},{"b":24.52,"h":42,"y":0.89,"y2":0.4},{"b":24.52,"h":43,"y":0.89,"y2":0.5},{"b":24.52,"h":45,"y":0.89,"y2":0.52},{"b":24.52,"h":46,"y":0.89,"y2":0.27},{"b":24.52,"h":47,"y":0.89,"y2":0.5},{"b":24.52,"h":48,"y":0.89,"y2":0.55},
{"b":24.01,"h":5.5,"y":0.88,"y2":0.88},{"b":24.01,"h":6,"y":0.88,"y2":0.75},{"b":24.01,"h":7,"y":0.88,"y2":0.68},{"b":24.01,"h":8,"y":0.88,"y2":0.58},{"b":24.01,"h":10,"y":0.9,"y2":0.48},{"b":24.01,"h":12,"y":0.9,"y2":0.4},{"b":24.01,"h":14,"y":0.9,"y2":0.34},{"b":24.01,"h":16,"y":0.88,"y2":0.42},{"b":24.01,"h":17,"y":0.89,"y2":0.5},{"b":24.01,"h":18,"y":0.89,"y2":0.6},{"b":24.01,"h":19,"y":0.89,"y2":0.62},{"b":24.01,"h":20,"y":0.89,"y2":0.75},{"b":24.01,"h":21,"y":0.89,"y2":0.89},
{"b":24.02,"h":29,"y":0.9,"y2":0.9},{"b":24.02,"h":30,"y":0.9,"y2":0.62},{"b":24.02,"h":33,"y":0.9,"y2":0.55},{"b":24.02,"h":36,"y":0.92,"y2":0.48},{"b":24.02,"h":38,"y":0.9,"y2":0.4},{"b":24.02,"h":40,"y":0.89,"y2":0.33},{"b":24.02,"h":41,"y":0.89,"y2":0.34},{"b":24.02,"h":41.5,"y":0.89,"y2":0.5},{"b":24.02,"h":42,"y":0.89,"y2":0.8},{"b":24.02,"h":42.5,"y":0.89,"y2":0.89},
{"b":23,"h":7,"y":0.88,"y2":0.88},{"b":23,"h":8,"y":0.88,"y2":0.78},{"b":23,"h":10,"y":0.9,"y2":0.62},{"b":23,"h":12,"y":0.9,"y2":0.5},{"b":23,"h":14,"y":0.9,"y2":0.42},{"b":23,"h":16,"y":0.88,"y2":0.5},{"b":23,"h":17,"y":0.89,"y2":0.58},{"b":23,"h":17.5,"y":0.89,"y2":0.7},{"b":23,"h":18,"y":0.89,"y2":0.89},
{"b":23.01,"h":32,"y":0.9,"y2":0.9},{"b":23.01,"h":33,"y":0.9,"y2":0.78},{"b":23.01,"h":35,"y":0.91,"y2":0.65},{"b":23.01,"h":36,"y":0.92,"y2":0.6},{"b":23.01,"h":38,"y":0.9,"y2":0.5},{"b":23.01,"h":40,"y":0.89,"y2":0.42},{"b":23.01,"h":41,"y":0.89,"y2":0.45},{"b":23.01,"h":41.5,"y":0.89,"y2":0.75},{"b":23.01,"h":41.8,"y":0.89,"y2":0.89},
{"b":22,"h":10,"y":0.9,"y2":0.9},{"b":22,"h":11,"y":0.9,"y2":0.72},{"b":22,"h":12,"y":0.9,"y2":0.6},{"b":22,"h":14,"y":0.9,"y2":0.52},{"b":22,"h":16,"y":0.88,"y2":0.6},{"b":22,"h":17,"y":0.89,"y2":0.75},{"b":22,"h":17.4,"y":0.89,"y2":0.89},
{"b":22.01,"h":35,"y":0.91,"y2":0.9},{"b":22.01,"h":36,"y":0.92,"y2":0.72},{"b":22.01,"h":38,"y":0.9,"y2":0.62},{"b":22.01,"h":40,"y":0.89,"y2":0.55},{"b":22.01,"h":41,"y":0.89,"y2":0.7},{"b":22.01,"h":41.4,"y":0.89,"y2":0.89},
{"b":21,"h":11.5,"y":0.9,"y2":0.9},{"b":21,"h":12,"y":0.9,"y2":0.72},{"b":21,"h":13,"y":0.9,"y2":0.62},{"b":21,"h":14,"y":0.9,"y2":0.58},{"b":21,"h":15,"y":0.9,"y2":0.6},{"b":21,"h":16,"y":0.88,"y2":0.68},{"b":21,"h":16.7,"y":0.89,"y2":0.89},
{"b":21.01,"h":36,"y":0.92,"y2":0.85},{"b":21.01,"h":37,"y":0.92,"y2":0.78},{"b":21.01,"h":39,"y":0.9,"y2":0.7},{"b":21.01,"h":40,"y":0.89,"y2":0.68},{"b":21.01,"h":41,"y":0.89,"y2":0.85}
],
"d1":[
{"h":0,"s":0.88,"w":0.6},{"h":1,"s":0.88,"w":0.6},{"h":2,"s":0.88,"w":0.8},{"h":3,"s":0.88,"w":0.2},{"h":4,"s":0.88,"w":1.3},{"h":5,"s":0.88,"w":0.3},{"h":6,"s":0.88,"w":0.2},{"h":7,"s":0.88,"w":0.7},{"h":8,"s":0.885,"w":0.7},{"h":9,"s":0.9,"w":0.2},{"h":10,"s":0.9,"w":1.1},{"h":11,"s":0.905,"w":0.8},{"h":12,"s":0.9,"w":0.4},{"h":13,"s":0.905,"w":1.1},{"h":14,"s":0.9,"w":1.0},{"h":15,"s":0.905,"w":1.5},{"h":16,"s":0.885,"w":2.0},{"h":17,"s":0.885,"w":1.6},{"h":18,"s":0.9,"w":3.2},{"h":19,"s":0.89,"w":1.9},{"h":20,"s":0.89,"w":1.7},{"h":21,"s":0.89,"w":1.4},{"h":22,"s":0.89,"w":1.0},{"h":23,"s":0.89,"w":1.0},{"h":24,"s":0.89,"w":0.8},{"h":25,"s":0.89,"w":1.0},{"h":26,"s":0.89,"w":0.2},{"h":27,"s":0.89,"w":0.4},{"h":28,"s":0.89,"w":0.3},{"h":29,"s":0.89,"w":0.2},{"h":30,"s":0.89,"w":0.2},{"h":31,"s":0.89,"w":0.2},{"h":32,"s":0.89,"w":0.6},{"h":33,"s":0.89,"w":1.0},{"h":34,"s":0.9,"w":0.2},{"h":35,"s":0.9,"w":0.4},{"h":36,"s":0.91,"w":0.9},{"h":37,"s":0.905,"w":0.8},{"h":38,"s":0.9,"w":0.9},{"h":39,"s":0.9,"w":0.8},{"h":40,"s":0.895,"w":1.1},{"h":41,"s":0.89,"w":2.7},{"h":42,"s":0.89,"w":3.2},{"h":43,"s":0.89,"w":3.7},{"h":44,"s":0.89,"w":3.3},{"h":45,"s":0.89,"w":2.4},{"h":46,"s":0.89,"w":1.7},{"h":47,"s":0.89,"w":1.4},{"h":48,"s":0.89,"w":1.3}
],
"d2":[
{"h":0,"s":0.88,"d":-0.35},{"h":1,"s":0.875},{"h":2,"s":0.875},{"h":3,"s":0.875},{"h":4,"s":0.88},{"h":5,"s":0.88},{"h":6,"s":0.875},{"h":7,"s":0.88},{"h":8,"s":0.88},{"h":9,"s":0.89},{"h":10,"s":0.905},{"h":11,"s":0.905},{"h":12,"s":0.9},{"h":13,"s":0.9},{"h":14,"s":0.9,"d":-0.22},{"h":15,"s":0.905,"d":-0.24},{"h":16,"s":0.88,"d":-0.21},{"h":17,"s":0.89,"d":-0.04},{"h":18,"s":0.895,"d":-0.13},{"h":19,"s":0.895,"d":-0.1},{"h":20,"s":0.895,"d":-0.15},{"h":21,"s":0.895,"d":-0.13},{"h":22,"s":0.895,"d":-0.1},{"h":23,"s":0.895,"d":-0.08},{"h":24,"s":0.895,"d":-0.245},{"h":25,"s":0.895},{"h":26,"s":0.895},{"h":27,"s":0.895},{"h":28,"s":0.895},{"h":29,"s":0.895},{"h":30,"s":0.895},{"h":31,"s":0.895},{"h":32,"s":0.895},{"h":33,"s":0.9},{"h":34,"s":0.905},{"h":35,"s":0.905},{"h":36,"s":0.915},{"h":37,"s":0.91},{"h":38,"s":0.905},{"h":39,"s":0.905},{"h":40,"s":0.895,"d":-0.25},{"h":41,"s":0.895,"d":-0.25},{"h":42,"s":0.895,"d":-0.205},{"h":43,"s":0.895,"d":-0.1},{"h":44,"s":0.895,"d":-0.15},{"h":45,"s":0.895,"d":-0.15},{"h":46,"s":0.895,"d":-0.15},{"h":47,"s":0.895,"d":-0.205},{"h":48,"s":0.895,"d":-0.2}
],
"d3":[
{"h":0,"s":0.88,"d":-0.345},{"h":1,"s":0.88},{"h":2,"s":0.88},{"h":3,"s":0.88},{"h":4,"s":0.88},{"h":5,"s":0.88},{"h":6,"s":0.885},{"h":7,"s":0.88},{"h":8,"s":0.88},{"h":9,"s":0.9},{"h":10,"s":0.905},{"h":11,"s":0.905},{"h":12,"s":0.905},{"h":13,"s":0.905},{"h":14,"s":0.905,"d":-0.22},{"h":15,"s":0.905,"d":-0.24},{"h":16,"s":0.88,"d":-0.205},{"h":17,"s":0.885,"d":-0.035},{"h":18,"s":0.9,"d":-0.125},{"h":19,"s":0.895,"d":-0.095},{"h":20,"s":0.9,"d":-0.147},{"h":21,"s":0.9,"d":-0.125},{"h":22,"s":0.9,"d":-0.09},{"h":23,"s":0.9,"d":-0.08},{"h":24,"s":0.9,"d":-0.245},{"h":25,"s":0.9},{"h":26,"s":0.9},{"h":27,"s":0.9},{"h":28,"s":0.9},{"h":29,"s":0.9},{"h":30,"s":0.9},{"h":31,"s":0.895},{"h":32,"s":0.895},{"h":33,"s":0.9},{"h":34,"s":0.905},{"h":35,"s":0.91},{"h":36,"s":0.92},{"h":37,"s":0.92},{"h":38,"s":0.91},{"h":39,"s":0.91},{"h":40,"s":0.9,"d":-0.245},{"h":41,"s":0.895,"d":-0.25},{"h":42,"s":0.895,"d":-0.2},{"h":43,"s":0.9,"d":-0.095},{"h":44,"s":0.9,"d":-0.145},{"h":45,"s":0.9,"d":-0.145},{"h":46,"s":0.9,"d":-0.145},{"h":47,"s":0.9,"d":-0.195},{"h":48,"s":0.9,"d":-0.19}
]
},
"concat":[
{"width":57,"height":133,"data":{"values":[]},"mark":"point"},
{"width":728,"height":133,"data":{"values":[]},"mark":"point"},
{"width":57,"height":351,"data":{"values":[]},"mark":"point"},
{
"width":682,"height":351,
"title":{"text":"Salinity Concentration (ppt)","fontSize":13.5,"fontWeight":"bold","color":"#333","offset":-103,"dx":24,"anchor":"middle"},
"encoding":{"x":{"field":"h","type":"quantitative","scale":{"domain":[0,48],"nice":false,"zero":false,"range":[50,682]},
"axis":{"values":[0,6,12,18,24,30,36,42,48],"grid":false,"domain":false,"ticks":false,"labelPadding":9,"labelFontSize":9.5,"labelColor":"#555","labelFlush":false,"labelOverlap":false,"labelExpr":"format((datum.value+18)%24,'02d')+':00'","title":"18:00 August 12 - 18:00 August 14, 2003","titleFontSize":11.8,"titleFontWeight":"normal","titleColor":"#444","titleX":382,"titleY":32}}},
"layer":[
{"data":{"name":"sal"},"mark":{"type":"area","orient":"vertical","strokeWidth":0},
"encoding":{"y":{"field":"y","type":"quantitative","stack":null,"scale":{"domain":[-2.25,1.5],"nice":false,"zero":false},
"axis":{"offset":-50,"values":[-2,-1.5,-1,-0.5,0,0.5,1,1.5],"grid":false,"domain":true,"domainColor":"#444","domainWidth":1.2,"ticks":false,"labelPadding":9,"labelFontSize":9.5,"labelColor":"#555","labelExpr":"replace(format(datum.value,'.1f'),'\u2212','-')","title":"Water Elevation (m) NGVD 1929","titleFontSize":12,"titleFontWeight":"normal","titleColor":"#555","titleX":-40}},
"y2":{"datum":-2.25},
"detail":{"field":"b","type":"quantitative"},
"color":{"field":"b","type":"quantitative","scale":{"type":"linear","interpolate":"rgb","domain":[0,4,8,10,12,14,16,18,20,22,24,26,28],"range":["#4b0f9c","#0808a8","#00008b","#0018d8","#0058b0","#0a8a50","#2cc020","#a8e000","#ffff00","#ffd000","#ff9a00","#ff6400","#ff2a00"]},
"legend":{"type":"symbol","title":null,"values":[0,4,8,12,16,20,24,28],"orient":"none","legendX":625,"legendY":-121,"symbolType":"M-1,-0.5H1V0.5H-1Z","symbolSize":441,"symbolStrokeWidth":0,"clipHeight":13.2,"rowPadding":0,"labelOffset":4,"labelFontSize":9,"labelColor":"#555","padding":8,"fillColor":"white","strokeColor":"#bbb"}}}},
{"data":{"values":[{"h":6},{"h":12},{"h":18},{"h":24},{"h":30},{"h":36},{"h":42}]},"mark":{"type":"rule","color":"#222","strokeWidth":0.8},"encoding":{"y":{"datum":-2.25,"type":"quantitative","axis":null,"scale":{"domain":[-2.25,1.5],"nice":false,"zero":false}},"y2":{"datum":0.9}}},
{"data":{"values":[{"h":0}]},"mark":{"type":"rule","color":"#666","strokeWidth":2},"encoding":{"x2":{"datum":48},"y":{"datum":1.5,"type":"quantitative","axis":null,"scale":{"domain":[-2.25,1.5],"nice":false,"zero":false}}}},
{"data":{"name":"d1"},"mark":{"type":"line","strokeWidth":1.3},"encoding":{"y":{"field":"s","type":"quantitative","axis":null,"scale":{"domain":[-2.25,1.5],"nice":false,"zero":false}},"stroke":{"datum":"Stage (m) NGVD","type":"nominal","scale":{"domain":["Stage (m) NGVD"],"range":["#000"]},"legend":{"title":null,"orient":"none","legendX":71,"legendY":-63,"symbolType":"M-1,0H-0.3A0.3,0.3 0 1,1 0.3,0H1M0.3,0A0.3,0.3 0 1,1 -0.3,0Z","symbolSize":400,"symbolFillColor":"#000","symbolStrokeWidth":1.2,"symbolOffset":5,"clipHeight":14,"labelFontSize":11.5,"labelColor":"#666","labelOffset":4,"padding":7,"fillColor":"white","strokeColor":"#888"}}}},
{"data":{"name":"d1"},"mark":{"type":"point","filled":true,"color":"#000","size":26,"opacity":1},"encoding":{"y":{"field":"s","type":"quantitative","axis":null,"scale":{"domain":[-2.25,1.5],"nice":false,"zero":false}}}},
{"data":{"name":"d1"},"mark":{"type":"line","strokeWidth":1.2},"encoding":{"y":{"field":"w","type":"quantitative","stack":null,"scale":{"domain":[0,4],"nice":false,"zero":false},
"axis":{"orient":"right","values":[0,0.5,1,1.5,2,2.5,3,3.5,4],"format":".1f","grid":false,"domain":true,"domainColor":"#444","domainWidth":1.2,"ticks":true,"tickSize":5,"tickColor":"#444","labelPadding":6,"labelFontSize":9.5,"labelColor":"#555","title":"Avg. Wind Velocity (m/s)","titleAngle":90,"titleFontSize":10.5,"titleFontWeight":"normal","titleColor":"#555","titleX":36,"titleY":194}},
"stroke":{"datum":"Avg. Wind Velocity (m/s)","type":"nominal","scale":{"domain":["Avg. Wind Velocity (m/s)"],"range":["#000"]},"legend":{"title":null,"orient":"none","legendX":51,"legendY":-33,"symbolType":"M-1,0H-0.35M0.35,0H1M-0.35,-0.35H0.35L0,0.4Z","symbolSize":400,"symbolFillColor":"#fff","symbolStrokeWidth":1.2,"symbolOffset":5,"clipHeight":14,"labelFontSize":10.7,"labelColor":"#666","labelOffset":4,"padding":7,"fillColor":"white","strokeColor":"#888"}}}},
{"data":{"name":"d1"},"mark":{"type":"point","shape":"triangle-down","filled":true,"fill":"#fff","stroke":"#000","strokeWidth":1.4,"size":32,"opacity":1},"encoding":{"y":{"field":"w","type":"quantitative","axis":null,"scale":{"domain":[0,4],"nice":false,"zero":false}}}}
],
"resolve":{"scale":{"y":"independent","stroke":"independent"}}
},
{"width":57,"height":247,"data":{"values":[]},"mark":"point"},
{"width":728,"height":247,"data":{"values":[]},"mark":"point"},
{"width":57,"height":353,"data":{"values":[]},"mark":"point"},
{
"width":668,"height":353,
"title":{"text":"Dissolved Oxygen (mg/L)","fontSize":13.5,"fontWeight":"bold","color":"#333","offset":-127,"dx":15,"anchor":"middle"},
"encoding":{"x":{"field":"h","type":"quantitative","scale":{"domain":[0,48],"nice":false,"zero":false,"range":[32,668]},
"axis":{"values":[0,6,12,18,24,30,36,42,48],"grid":false,"domain":false,"ticks":false,"labelPadding":9,"labelFontSize":9.5,"labelColor":"#555","labelFlush":false,"labelOverlap":false,"labelExpr":"format((datum.value+18)%24,'02d')+':00'","title":"18:00 August 12 - 18:00 August 14, 2003","titleFontSize":11.8,"titleFontWeight":"normal","titleColor":"#444","titleX":363,"titleY":28}}},
"layer":[
{"data":{"name":"do"},"mark":{"type":"area","orient":"vertical","strokeWidth":0},
"encoding":{"y":{"field":"y","type":"quantitative","stack":null,"scale":{"domain":[-2.25,1.5],"nice":false,"zero":false},
"axis":{"offset":-32,"values":[-2,-1.5,-1,-0.5,0,0.5,1,1.5],"grid":false,"domain":true,"domainColor":"#444","domainWidth":1.2,"ticks":false,"labelPadding":9,"labelFontSize":9.5,"labelColor":"#555","labelExpr":"replace(format(datum.value,'.1f'),'\u2212','-')","title":"Water Elevation (m) NGVD, 1929","titleFontSize":12,"titleFontWeight":"normal","titleColor":"#555","titleX":-36}},
"y2":{"field":"y2"},
"detail":{"field":"b","type":"quantitative"},
"color":{"field":"b","type":"quantitative","scale":{"type":"linear","interpolate":"rgb","domain":[0,2,4,6,8,10,12,12.5,13,14,15,16,18],"range":["#4a10a0","#2a08a8","#0808a8","#0000f0","#0d6a52","#20c010","#e0f000","#ffff00","#ffd800","#ffb000","#ff9000","#ff6a00","#ff2800"]},
"legend":{"type":"symbol","title":null,"values":[0,2,4,6,8,10,12,14,16,18],"orient":"none","legendX":612,"legendY":-148,"symbolType":"M-1,-0.5H1V0.5H-1Z","symbolSize":441,"symbolStrokeWidth":0,"clipHeight":13.2,"rowPadding":0,"labelOffset":4,"labelFontSize":9,"labelColor":"#555","padding":8,"fillColor":"white","strokeColor":"#aaa"}}}},
{"data":{"values":[{"h":6},{"h":12},{"h":18},{"h":24},{"h":30},{"h":36},{"h":42}]},"mark":{"type":"rule","color":"#222","strokeWidth":0.8},"encoding":{"y":{"datum":-2.25,"type":"quantitative","axis":null,"scale":{"domain":[-2.25,1.5],"nice":false,"zero":false}},"y2":{"datum":0.9}}},
{"data":{"values":[{"h":0}]},"mark":{"type":"rule","color":"#666","strokeWidth":2},"encoding":{"x2":{"datum":48},"y":{"datum":1.5,"type":"quantitative","axis":null,"scale":{"domain":[-2.25,1.5],"nice":false,"zero":false}}}},
{"data":{"name":"d2"},"mark":{"type":"line","strokeWidth":1.3},"encoding":{"y":{"field":"s","type":"quantitative","axis":null,"scale":{"domain":[-2.25,1.5],"nice":false,"zero":false}},"stroke":{"datum":"Stage (m) NGVD","type":"nominal","scale":{"domain":["Stage (m) NGVD"],"range":["#000"]},"legend":{"title":null,"orient":"none","legendX":33,"legendY":-65,"symbolType":"M-1,0H-0.3A0.3,0.3 0 1,1 0.3,0H1M0.3,0A0.3,0.3 0 1,1 -0.3,0Z","symbolSize":400,"symbolFillColor":"#000","symbolStrokeWidth":1.2,"symbolOffset":3,"clipHeight":14,"labelFontSize":11.5,"labelColor":"#666","labelOffset":4,"padding":7,"fillColor":"white","strokeColor":"#888"}}}},
{"data":{"name":"d2"},"mark":{"type":"point","filled":true,"color":"#000","size":30,"opacity":1},"encoding":{"y":{"field":"s","type":"quantitative","axis":null,"scale":{"domain":[-2.25,1.5],"nice":false,"zero":false}}}},
{"data":{"name":"d2"},"mark":{"type":"line","strokeWidth":1.2},"encoding":{"y":{"field":"d","type":"quantitative","stack":null,"scale":{"domain":[-2.25,1.5],"nice":false,"zero":false},
"axis":{"orient":"right","values":[-2,-1.5,-1,-0.5,0,0.5,1,1.5],"grid":false,"domain":true,"domainColor":"#444","domainWidth":1.2,"ticks":true,"tickSize":5,"tickColor":"#444","labelPadding":9,"labelFontSize":9.5,"labelColor":"#555","labelExpr":"replace(format(datum.value,'.1f'),'\u2212','-')","title":"Secchi Depth (m)","titleAngle":90,"titleFontSize":10,"titleFontWeight":"normal","titleColor":"#555","titleX":41,"titleY":194}},
"stroke":{"datum":"Secchi Depth (m)","type":"nominal","scale":{"domain":["Secchi Depth (m)"],"range":["#000"]},"legend":{"title":null,"orient":"none","legendX":33,"legendY":-34,"symbolType":"M-1,0H-0.35A0.35,0.35 0 1,1 0.35,0H1M0.35,0A0.35,0.35 0 1,1 -0.35,0Z","symbolSize":400,"symbolFillColor":"#fff","symbolStrokeWidth":2,"symbolOffset":3,"clipHeight":14,"labelFontSize":9.7,"labelColor":"#666","labelOffset":4,"padding":7,"fillColor":"white","strokeColor":"#888"}}}},
{"data":{"name":"d2"},"mark":{"type":"point","filled":true,"fill":"#fff","stroke":"#000","strokeWidth":2.8,"size":34,"opacity":1},"encoding":{"y":{"field":"d","type":"quantitative","axis":null,"scale":{"domain":[-2.25,1.5],"nice":false,"zero":false}}}}
],
"resolve":{"scale":{"y":"independent","stroke":"independent"}}
},
{"width":57,"height":263,"data":{"values":[]},"mark":"point"},
{"width":728,"height":263,"data":{"values":[]},"mark":"point"},
{"width":57,"height":365,"data":{"values":[]},"mark":"point"},
{
"width":658,"height":365,
"view":{"stroke":"#222","strokeWidth":1.5},
"title":{"text":"Temperature (C)","fontSize":12.8,"fontWeight":"bold","color":"#222","offset":-155,"anchor":"middle"},
"encoding":{"x":{"field":"h","type":"quantitative","scale":{"domain":[0,48],"nice":false,"zero":false},
"axis":{"values":[0,6,12,18,24,30,36,42,48],"grid":false,"domain":true,"domainColor":"#000","domainWidth":3,"ticks":true,"tickSize":7,"tickColor":"#333","labelPadding":5,"labelFontSize":9,"labelColor":"#222","labelFlush":false,"labelOverlap":false,"labelExpr":"format((datum.value+18)%24,'02d')+':00'","title":"18:00 August 12 - 18:00 August 14, 2003","titleFontSize":11,"titleFontWeight":"normal","titleColor":"#222","titleX":328,"titleY":36}}},
"layer":[
{"data":{"name":"tmp"},"mark":{"type":"area","orient":"vertical","strokeWidth":0},
"encoding":{"y":{"field":"y","type":"quantitative","stack":null,"scale":{"domain":[-2.25,1.5],"nice":false,"zero":false},
"axis":{"values":[-2,-1.5,-1,-0.5,0,0.5,1,1.5],"grid":false,"domain":false,"ticks":false,"labelPadding":10,"labelFontSize":9,"labelColor":"#222","labelExpr":"replace(format(datum.value,'.1f'),'\u2212','-')","title":"Water Elevation (m) NGVD, 1929","titleFontSize":12,"titleFontWeight":"normal","titleColor":"#222","titleX":-37}},
"y2":{"field":"y2"},
"detail":{"field":"b","type":"quantitative"},
"color":{"field":"b","type":"quantitative","scale":{"type":"linear","interpolate":"rgb","domain":[0,3,6,9,12,15,18,21,24,27,30],"range":["#3f0a80","#1a0a80","#00008f","#0000e0","#0035b0","#00a020","#70dc00","#ffff00","#ffb000","#ff6a00","#ff1800"]},
"legend":{"type":"symbol","title":null,"values":[0,3,6,9,12,15,18,21,24,27,30],"orient":"none","legendX":598,"legendY":-173,"symbolType":"M-1,-0.5H1V0.5H-1Z","symbolSize":529,"symbolStrokeWidth":0,"clipHeight":13.8,"rowPadding":0,"labelOffset":5,"labelFontSize":9,"labelColor":"#333","padding":7,"fillColor":"white","strokeColor":"#999"}}}},
{"data":{"values":[{"h":6},{"h":12},{"h":18},{"h":24},{"h":30},{"h":36},{"h":42}]},"mark":{"type":"rule","color":"#444","strokeWidth":1.3,"opacity":0.75},"encoding":{"y":{"datum":-2.25,"type":"quantitative","axis":null,"scale":{"domain":[-2.25,1.5],"nice":false,"zero":false}},"y2":{"datum":1.5}}},
{"data":{"values":[{"h":1},{"h":2},{"h":3},{"h":4},{"h":5},{"h":7},{"h":8},{"h":9},{"h":10},{"h":11},{"h":13},{"h":14},{"h":15},{"h":16},{"h":17},{"h":19},{"h":20},{"h":21},{"h":22},{"h":23},{"h":25},{"h":26},{"h":27},{"h":28},{"h":29},{"h":31},{"h":32},{"h":33},{"h":34},{"h":35},{"h":37},{"h":38},{"h":39},{"h":40},{"h":41},{"h":43},{"h":44},{"h":45},{"h":46},{"h":47}]},"mark":{"type":"rule","color":"#333","strokeWidth":0.8,"y2Offset":4},"encoding":{"y":{"datum":-2.25,"type":"quantitative","axis":null,"scale":{"domain":[-2.25,1.5],"nice":false,"zero":false}},"y2":{"datum":-2.25}}},
{"data":{"name":"d3"},"mark":{"type":"line","strokeWidth":1.3},"encoding":{"y":{"field":"s","type":"quantitative","axis":null,"scale":{"domain":[-2.25,1.5],"nice":false,"zero":false}},"stroke":{"datum":"Stage (m) NGVD","type":"nominal","scale":{"domain":["Stage (m) NGVD"],"range":["#000"]},"legend":{"title":null,"orient":"none","legendX":4,"legendY":-65,"symbolType":"M-1,0H-0.3A0.3,0.3 0 1,1 0.3,0H1M0.3,0A0.3,0.3 0 1,1 -0.3,0Z","symbolSize":400,"symbolFillColor":"#000","symbolStrokeWidth":1.2,"symbolOffset":2,"clipHeight":12,"labelFontSize":11.5,"labelColor":"#333","labelOffset":4,"padding":7,"fillColor":"white","strokeColor":"#333"}}}},
{"data":{"name":"d3"},"mark":{"type":"point","filled":true,"color":"#000","size":36,"opacity":1},"encoding":{"y":{"field":"s","type":"quantitative","axis":null,"scale":{"domain":[-2.25,1.5],"nice":false,"zero":false}}}},
{"data":{"name":"d3"},"mark":{"type":"line","strokeWidth":1.2},"encoding":{"y":{"field":"d","type":"quantitative","stack":null,"scale":{"domain":[-2.25,1.5],"nice":false,"zero":false},
"axis":{"orient":"right","values":[-2,-1.5,-1,-0.5,0,0.5,1,1.5],"grid":false,"domain":false,"ticks":true,"tickSize":7,"tickColor":"#222","labelPadding":8,"labelFontSize":9,"labelColor":"#222","labelExpr":"replace(format(datum.value,'.1f'),'\u2212','-')","title":"Secchi Depth (m)","titleAngle":90,"titleFontSize":7.5,"titleFontWeight":"normal","titleColor":"#222","titleX":46,"titleY":170}},
"stroke":{"datum":"Secchi Depth (m)","type":"nominal","scale":{"domain":["Secchi Depth (m)"],"range":["#000"]},"legend":{"title":null,"orient":"none","legendX":0,"legendY":-32,"symbolType":"M-1,0H-0.35A0.35,0.35 0 1,1 0.35,0H1M0.35,0A0.35,0.35 0 1,1 -0.35,0Z","symbolSize":400,"symbolFillColor":"#fff","symbolStrokeWidth":2,"symbolOffset":2,"clipHeight":13,"labelFontSize":7,"labelColor":"#333","labelOffset":6,"padding":7,"fillColor":"white","strokeColor":"#333"}}}},
{"data":{"name":"d3"},"mark":{"type":"point","filled":true,"fill":"#fff","stroke":"#000","strokeWidth":2.8,"size":36,"opacity":1},"encoding":{"y":{"field":"d","type":"quantitative","axis":null,"scale":{"domain":[-2.25,1.5],"nice":false,"zero":false}}}}
],
"resolve":{"scale":{"y":"independent","stroke":"independent"}}
}
],
"columns":2,
"spacing":0,
"align":"none",
"bounds":"flush",
"resolve":{"scale":{"color":"independent","stroke":"independent"},"legend":{"color":"independent","stroke":"independent"}}
}
